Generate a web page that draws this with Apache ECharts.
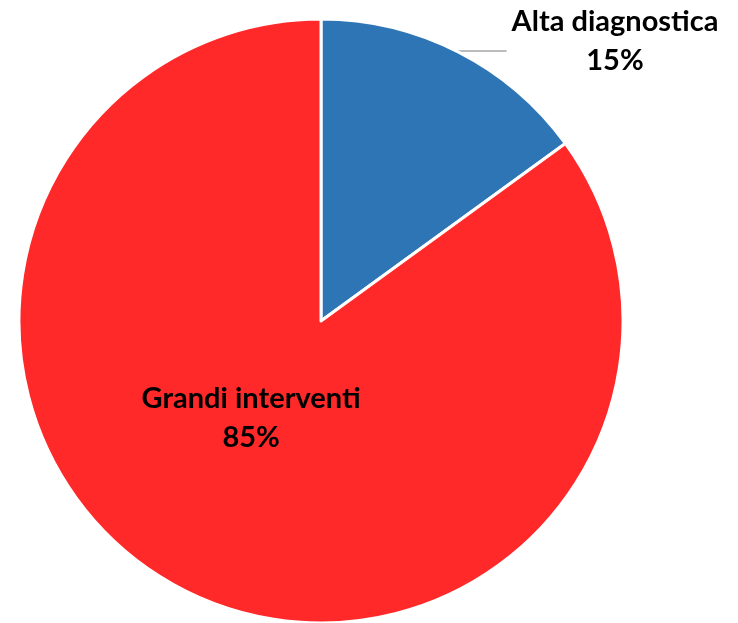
<!DOCTYPE html>
<html>
<head>
<meta charset="utf-8">
<script src="https://cdn.jsdelivr.net/npm/echarts@6/dist/echarts.min.js"></script>
<style>
  html, body { margin: 0; padding: 0; background: #fff; }
  #chart { width: 738px; height: 623px; }
</style>
</head>
<body>
<div id="chart"></div>
<script>
// categorie e valori (percentuali)
const categories = ['Alta diagnostica', 'Grandi interventi']
const values = [15, 85]
const colors = ['#2E75B6', '#FF2929']

const chart = echarts.init(document.getElementById('chart'))

const labelFont = {
  fontFamily: 'Lato',
  fontWeight: 'bold',
  fontSize: 29,
  color: '#000',
  lineHeight: 39
}

const option = {
  animation: false,
  series: [
    {
      type: 'pie',
      center: [321, 321],
      radius: 302,
      startAngle: 90,
      clockwise: true,
      avoidLabelOverlap: false,
      itemStyle: {
        borderColor: '#fff',
        borderWidth: 3
      },
      label: {
        formatter: (p) => '{t|' + p.name + '}\n{t|' + p.value + '%}',
        rich: { t: Object.assign({ align: 'center' }, labelFont) }
      },
      // etichetta interna spostata un po' verso l'alto
      labelLayout: (p) => p.dataIndex === 0 ? { dy: -10 } : { dy: -40 },
      data: categories.map((name, i) => ({
        name: name,
        value: values[i],
        itemStyle: { color: colors[i] },
        label: i === 0 ? { position: 'outside' } : { position: 'inside' },
        labelLine: i === 0
          ? { show: true, length: 1, length2: 48, lineStyle: { color: '#A6A6A6', width: 1.5 } }
          : { show: false }
      }))
    }
  ]
}
chart.setOption(option)
</script>
</body>
</html>
